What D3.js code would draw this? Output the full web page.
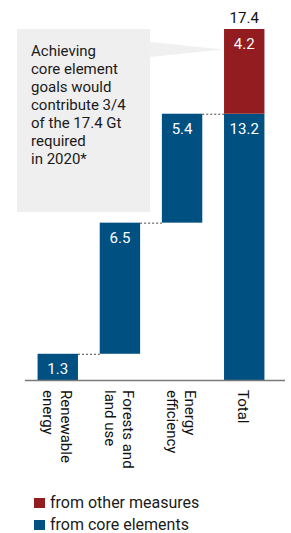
<!DOCTYPE html>
<html>
<head>
<meta charset="utf-8">
<script src="https://cdn.jsdelivr.net/npm/d3@7"></script>
<style>
  html, body { margin: 0; padding: 0; background: #fff; }
  svg { display: block; }
  text { font-family: Roboto, "Open Sans", sans-serif; }
</style>
</head>
<body>
<div id="chart"></div>
<script>
// ---- data ----
const categories = ["Renewable energy", "Forests and land use", "Energy efficiency", "Total"];
const categoryLines = [["Renewable", "energy"], ["Forests and", "land use"], ["Energy", "efficiency"], ["Total"]];
const coreValues = [1.3, 6.5, 5.4];      // contributions of core elements
const totalCore = 13.2;                  // total from core elements
const otherMeasures = 4.2;               // from other measures
const totalRequired = 17.4;              // total required in 2020
const legendLabels = ["from other measures", "from core elements"];
const calloutLines = ["Achieving", "core element", "goals would", "contribute 3/4", "of the 17.4 Gt", "required", "in 2020*"];

// ---- layout ----
const W = 291, H = 533;
const blue = "#005082", red = "#921c1f";
const svg = d3.select("#chart").append("svg").attr("width", W).attr("height", H);

const x = d3.scaleBand().domain(categories).range([27, 275]).paddingInner(0.35).paddingOuter(0.17);
const y = d3.scaleLinear().domain([0, totalRequired]).range([380, 29]);

// stacked waterfall segments
const segs = [];
let cum = 0;
coreValues.forEach((v, i) => {
  segs.push({cat: categories[i], y0: cum, y1: cum + v, value: v, color: blue});
  cum += v;
});
segs.push({cat: categories[3], y0: 0, y1: totalCore, value: totalCore, color: blue});
segs.push({cat: categories[3], y0: totalCore, y1: totalCore + otherMeasures, value: otherMeasures, color: red});

// callout box
const box = {x0: 17, x1: 150, y0: 29, y1: 212};
svg.append("path")
  .attr("d", `M${box.x1},${42} L${x(categories[3]) - 1},${49.5} L${box.x1},${57} Z`)
  .attr("fill", "#f0f0f0");
svg.append("rect")
  .attr("x", box.x0).attr("y", box.y0)
  .attr("width", box.x1 - box.x0).attr("height", box.y1 - box.y0)
  .attr("fill", "#efefef");
svg.append("g").selectAll("text").data(calloutLines).join("text")
  .attr("x", 31).attr("y", (d, i) => 56 + i * 18)
  .attr("font-size", 15).attr("fill", "#1a1a1a")
  .text(d => d);

// bars
svg.append("g").selectAll("rect").data(segs).join("rect")
  .attr("x", d => x(d.cat)).attr("width", x.bandwidth())
  .attr("y", d => y(d.y1)).attr("height", d => y(d.y0) - y(d.y1))
  .attr("fill", d => d.color);

// dotted connectors
const conns = [];
let c2 = 0;
coreValues.forEach((v, i) => {
  c2 += v;
  conns.push({from: categories[i], to: categories[i + 1], level: c2});
});
svg.append("g").selectAll("line").data(conns).join("line")
  .attr("x1", d => x(d.from) + x.bandwidth()).attr("x2", d => x(d.to))
  .attr("y1", d => y(d.level) + 0.5).attr("y2", d => y(d.level) + 0.5)
  .attr("stroke", "#444").attr("stroke-width", 1).attr("stroke-dasharray", "2,2");

// value labels
svg.append("g").selectAll("text").data(segs).join("text")
  .attr("x", d => x(d.cat) + x.bandwidth() / 2)
  .attr("y", d => y(d.y1) + 20)
  .attr("text-anchor", "middle").attr("font-size", 15).attr("fill", "#fff")
  .text(d => d3.format(".1f")(d.value));
svg.append("text")
  .attr("x", x(categories[3]) + x.bandwidth() / 2).attr("y", y(totalRequired) - 6)
  .attr("text-anchor", "middle").attr("font-size", 15).attr("fill", "#111")
  .text(d3.format(".1f")(totalRequired));

// baseline axis
svg.append("line")
  .attr("x1", 25).attr("x2", 285).attr("y1", y(0) + 0.5).attr("y2", y(0) + 0.5)
  .attr("stroke", "#7a7a7a").attr("stroke-width", 1.5);

// rotated category labels
const L = 18;
const lab = svg.append("g").selectAll("g").data(categories).join("g")
  .attr("transform", d => `translate(${x(d) + x.bandwidth() / 2},390) rotate(90)`);
lab.each(function (d, i) {
  const lines = categoryLines[i];
  const n = lines.length;
  d3.select(this).selectAll("text").data(lines).join("text")
    .attr("x", 0).attr("y", (t, j) => 6 - (n - 1) * L / 2 + j * L)
    .attr("font-size", 15).attr("fill", "#111")
    .text(t => t);
});

// legend
const legColors = [red, blue];
const leg = svg.append("g").selectAll("g").data(legendLabels).join("g")
  .attr("transform", (d, i) => `translate(34,${498 + i * 22})`);
leg.append("rect").attr("width", 11).attr("height", 10).attr("fill", (d, i) => legColors[i]);
leg.append("text").attr("x", 16).attr("y", 10).attr("font-size", 16).attr("fill", "#1a1a1a").text(d => d);
</script>
</body>
</html>
